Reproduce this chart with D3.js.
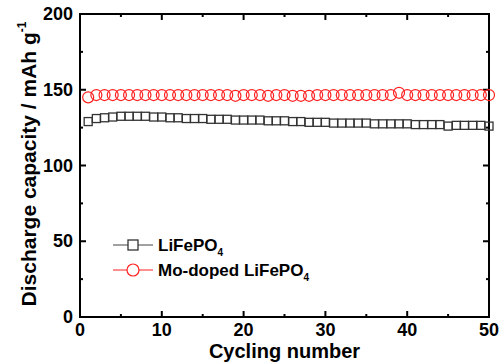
<!DOCTYPE html>
<html>
<head>
<script src="https://d3js.org/d3.v7.min.js"></script>
<style>
  body { margin: 0; background: #fff; }
  text { font-family: Arial, "Liberation Sans", sans-serif; font-weight: bold; }
</style>
</head>
<body>
<div id="chart"></div>
<script>
// cycle numbers 1..50
var cycles = [1,2,3,4,5,6,7,8,9,10,11,12,13,14,15,16,17,18,19,20,21,22,23,24,25,
  26,27,28,29,30,31,32,33,34,35,36,37,38,39,40,41,42,43,44,45,46,47,48,49,50];
var lfp = [129,131,131.5,132,132.5,132.5,132.5,132.5,132,132,131.5,131.5,131,131,131,
  130.5,130.5,130.5,130,130,130,130,129.5,129.5,129.5,129,129,128.5,128.5,128.5,
  128,128,128,128,128,127.5,127.5,127.5,127.5,127.5,127,127,127,127,126,126.5,126.5,126.5,126.5,126];
var moLfp = [145,146.5,146.5,146.5,146.5,146.5,146.5,146.5,146.5,146.5,146.5,146.5,146.5,146.5,146.5,
  146.5,146.5,146.5,146,146.5,146.5,146.5,146,146.5,146.5,146,146,146,146.5,146.5,
  146.5,146.5,146.5,146.5,146.5,146.5,146.5,146.5,148,146.5,146.5,146.5,146.5,146.5,146.5,146.5,146.5,146.5,146.5,146.5];
var xTicks = [0,10,20,30,40,50];
var yTicks = [0,50,100,150,200];

var W = 499, H = 363;
var m = {left: 80, right: 10, top: 14, bottom: 46};
var svg = d3.select("#chart").append("svg").attr("width", W).attr("height", H);

var x = d3.scaleLinear().domain([0, 50]).range([m.left, W - m.right]);
var y = d3.scaleLinear().domain([0, 200]).range([H - m.bottom, m.top]);

// ticks (inside, all four sides)
function ticks(axis, vals, len) {
  vals.forEach(function (v) {
    if (axis === "x") {
      var p = x(v);
      svg.append("line").attr("x1", p).attr("x2", p).attr("y1", y(0)).attr("y2", y(0) - len)
        .attr("stroke", "#000").attr("stroke-width", 2);
      svg.append("line").attr("x1", p).attr("x2", p).attr("y1", y(200)).attr("y2", y(200) + len)
        .attr("stroke", "#000").attr("stroke-width", 2);
    } else {
      var q = y(v);
      svg.append("line").attr("y1", q).attr("y2", q).attr("x1", x(0)).attr("x2", x(0) + len)
        .attr("stroke", "#000").attr("stroke-width", 2);
      svg.append("line").attr("y1", q).attr("y2", q).attr("x1", x(50)).attr("x2", x(50) - len)
        .attr("stroke", "#000").attr("stroke-width", 2);
    }
  });
}
ticks("x", d3.range(0, 51, 10), 6);
ticks("x", d3.range(5, 50, 10), 3);
ticks("y", d3.range(0, 201, 50), 6);
ticks("y", d3.range(25, 200, 50), 3);

// frame
svg.append("rect").attr("x", x(0)).attr("y", y(200))
  .attr("width", x(50) - x(0)).attr("height", y(0) - y(200))
  .attr("fill", "none").attr("stroke", "#000").attr("stroke-width", 2);

// tick labels
svg.selectAll(".xl").data(xTicks).enter().append("text")
  .attr("x", function (d) { return x(d); }).attr("y", y(0) + 19)
  .attr("text-anchor", "middle").attr("font-size", 18).text(function (d) { return d; });
svg.selectAll(".yl").data(yTicks).enter().append("text")
  .attr("x", x(0) - 7).attr("y", function (d) { return y(d) + 6; })
  .attr("text-anchor", "end").attr("font-size", 18).text(function (d) { return d; });

// axis titles
svg.append("text").attr("x", (x(0) + x(50)) / 2).attr("y", 358)
  .attr("text-anchor", "middle").attr("font-size", 20).text("Cycling number");
var yt = svg.append("text").attr("transform", "translate(36," + 164 + ") rotate(-90)")
  .attr("text-anchor", "middle").attr("font-size", 21);
yt.append("tspan").text("Discharge capacity / mAh g");
yt.append("tspan").attr("font-size", 12).attr("dy", -10).text("-1");

// data
svg.selectAll(".sq").data(lfp).enter().append("rect")
  .attr("x", function (d, i) { return x(cycles[i]) - 4; })
  .attr("y", function (d) { return y(d) - 4; })
  .attr("width", 8).attr("height", 8)
  .attr("fill", "none").attr("stroke", "#333").attr("stroke-width", 1.3);
svg.selectAll(".ci").data(moLfp).enter().append("circle")
  .attr("cx", function (d, i) { return x(cycles[i]); })
  .attr("cy", function (d) { return y(d); })
  .attr("r", 5.5)
  .attr("fill", "none").attr("stroke", "#ff2020").attr("stroke-width", 1.2);

// legend
var lg = [{name: "LiFePO", sub: "4", color: "#444", shape: "sq", yy: 245},
          {name: "Mo-doped LiFePO", sub: "4", color: "#ff2020", shape: "ci", yy: 270}];
lg.forEach(function (l) {
  svg.append("line").attr("x1", 113).attr("x2", 153).attr("y1", l.yy).attr("y2", l.yy)
    .attr("stroke", l.color).attr("stroke-width", 1);
  if (l.shape === "sq") {
    svg.append("rect").attr("x", 128).attr("y", l.yy - 5).attr("width", 10).attr("height", 10)
      .attr("fill", "#fff").attr("stroke", "#333").attr("stroke-width", 1.3);
  } else {
    svg.append("circle").attr("cx", 133).attr("cy", l.yy).attr("r", 6)
      .attr("fill", "#fff").attr("stroke", l.color).attr("stroke-width", 1.2);
  }
  var t = svg.append("text").attr("x", 158).attr("y", l.yy + 6).attr("font-size", 17);
  t.append("tspan").text(l.name);
  t.append("tspan").attr("font-size", 10).attr("dy", 5).text(l.sub);
});
</script>
</body>
</html>
